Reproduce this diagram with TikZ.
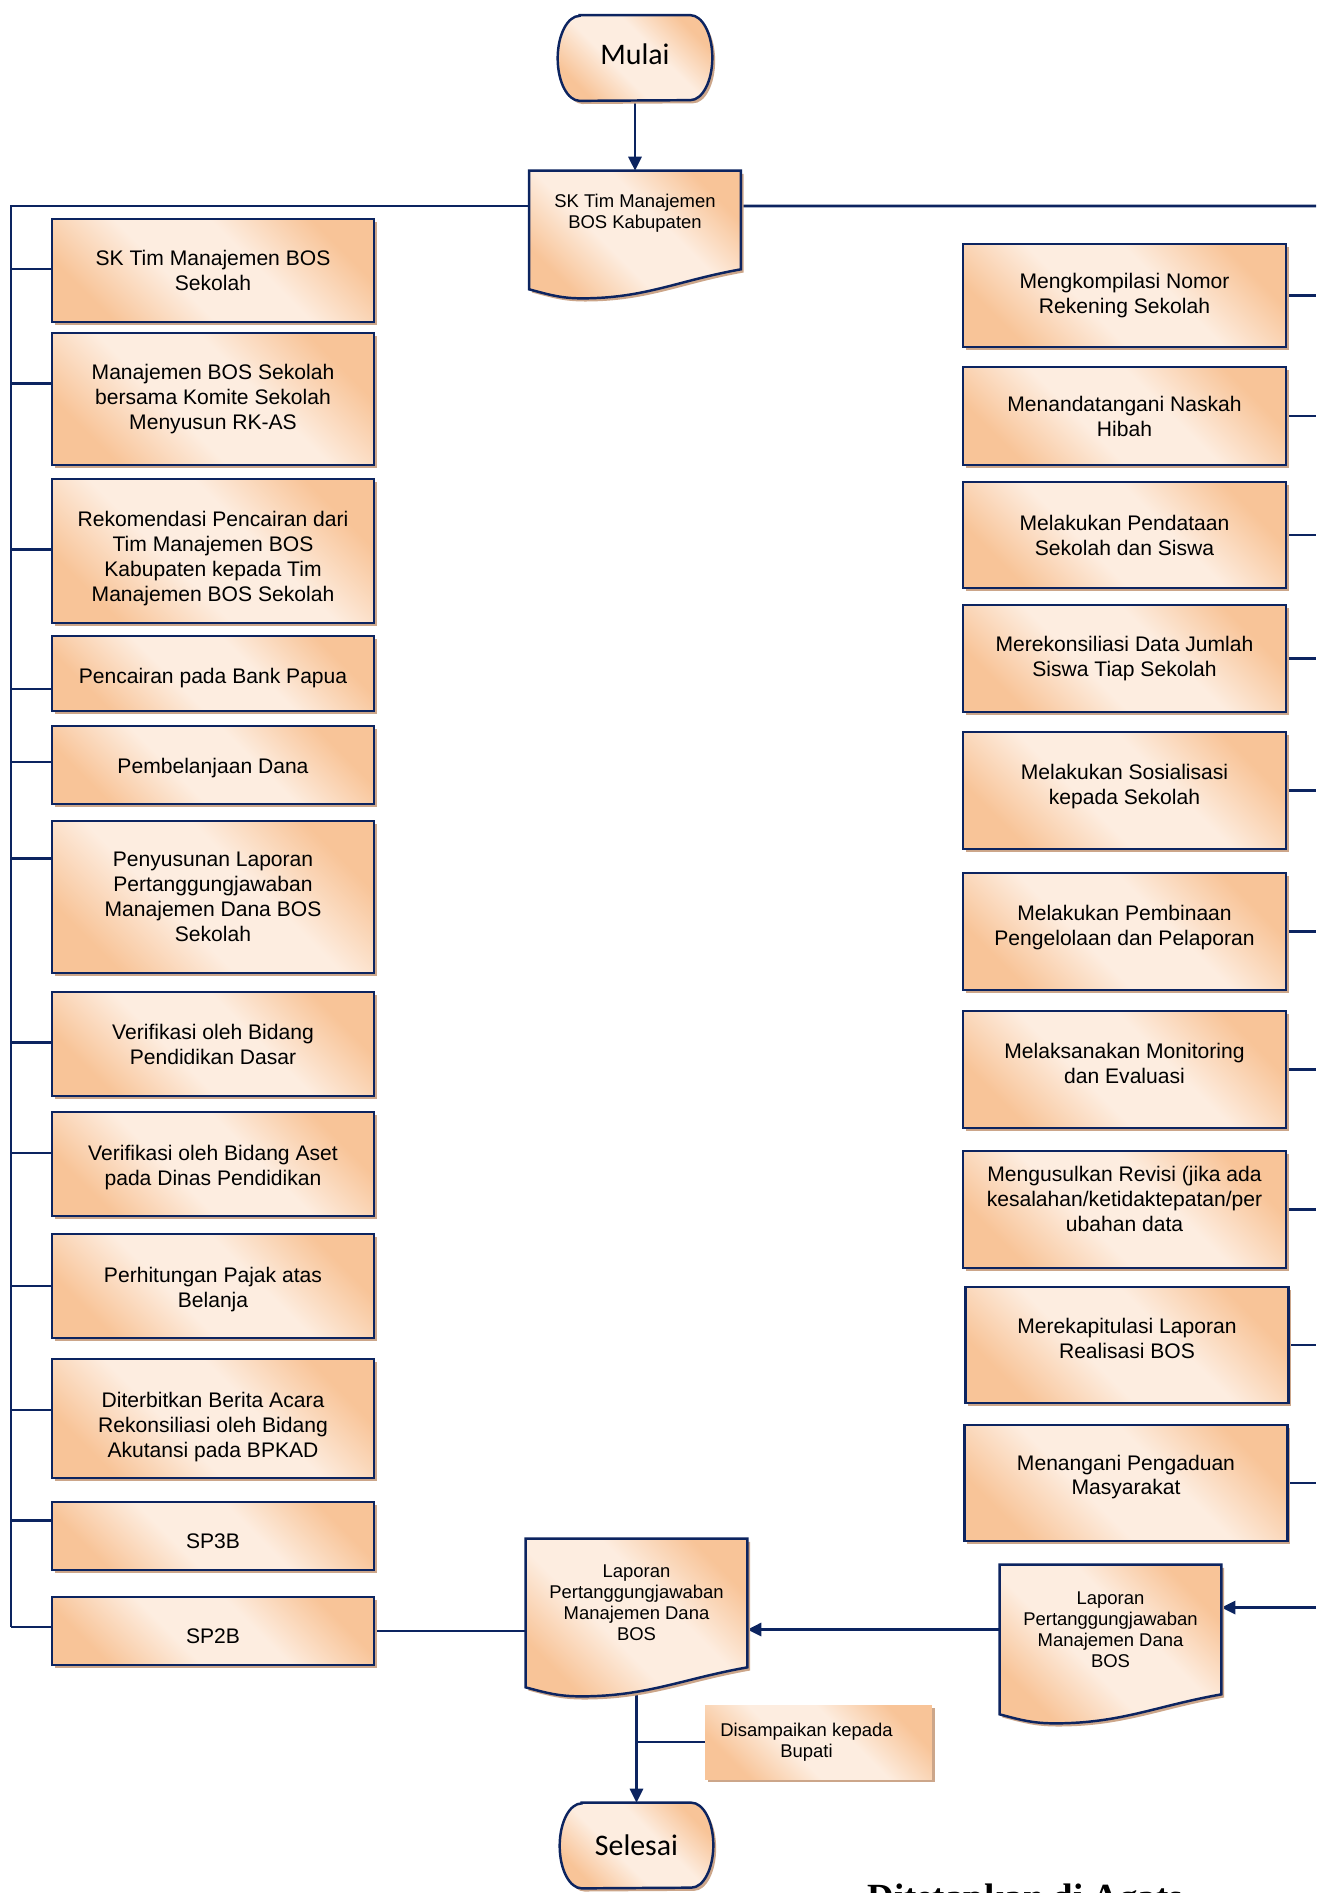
\documentclass[tikz,border=0pt]{standalone}
\usepackage{fontspec}
\setmainfont{Liberation Sans}
\newfontfamily\calib{Carlito}
\newfontfamily\timesf{Liberation Serif}
\usetikzlibrary{calc,shadows,arrows.meta}

\definecolor{navy}{RGB}{12,36,96}
\definecolor{peach}{RGB}{248,196,152}
\definecolor{peachlt}{RGB}{253,237,224}
\definecolor{tanc}{RGB}{204,166,138}
\pgfdeclareverticalshading{peachband}{100bp}{color(0bp)=(peach); color(25bp)=(peach);
  color(42bp)=(peachlt); color(58bp)=(peachlt); color(75bp)=(peach); color(100bp)=(peach)}

\pgfdeclarelayer{lines}
\pgfdeclarelayer{shapes}
\pgfsetlayers{lines,shapes,main}

\tikzset{
  fillpeach/.style={shade, shading=peachband, shading angle=135,
    drop shadow={shadow xshift=1.6pt, shadow yshift=-1.8pt, fill=tanc, opacity=1}},
  box/.style={rectangle, draw=navy, line width=1.4pt, fillpeach, inner sep=0pt, align=center,
    font=\fontsize{12}{14.2}\selectfont},
  lbox/.style={box, minimum width=6.44cm},
  rbox/.style={box, minimum width=6.46cm},
  doctext/.style={rectangle, inner sep=0pt, align=center, font=\fontsize{10.5}{12}\selectfont},
  termtext/.style={rectangle, inner sep=0pt, font=\calib\fontsize{17}{20}\selectfont},
  shapeline/.style={draw=navy, line width=1.4pt, fillpeach},
  flow/.style={draw=navy, line width=1.5pt},
  arr/.style={flow, -{Triangle[length=8pt,width=7.5pt]}}
}

% outline of a document symbol round a text node
\newcommand\docpath[1]{%
  \begin{pgfonlayer}{shapes}
  \path[shapeline] (#1.north west) -- (#1.north east) -- (#1.south east)
    to[out=190,in=0] ($(#1.south west)!0.25!(#1.south east)+(0,-29)$)
    to[out=180,in=-15] ($(#1.south west)+(0,-20)$) -- cycle;
  \end{pgfonlayer}}
% outline of a start/end symbol
\newcommand\termpath[1]{%
  \begin{pgfonlayer}{shapes}
  \path[shapeline] ($(#1.north west)+(22,0)$) -- ($(#1.north east)+(-22,0)$)
    arc[start angle=90, end angle=-90, x radius=0.44cm, y radius=0.85cm]
    -- ($(#1.south west)+(22,0)$)
    arc[start angle=270, end angle=90, x radius=0.44cm, y radius=0.85cm] -- cycle;
  \end{pgfonlayer}}

\begin{document}
\begin{tikzpicture}[x=0.02cm, y=0.02cm]
\useasboundingbox (0,0) rectangle (1316,-1893);

% start, end and documents
\node[termtext, text depth=4pt, minimum width=3.08cm, minimum height=1.7cm] (mulai) at (635,-58) {Mulai};
\termpath{mulai}
\node[doctext, text depth=10.3pt, minimum width=4.22cm, minimum height=1.96cm] (kab) at (635,-220) {SK Tim Manajemen\\BOS Kabupaten};
\docpath{kab}
\node[doctext, minimum width=4.42cm, minimum height=2.56cm] (cdoc) at (636.5,-1603) {Laporan\\Pertanggungjawaban\\Manajemen Dana\\BOS};
\docpath{cdoc}
\node[doctext, minimum width=4.42cm, minimum height=2.58cm] (rdoc) at (1110.5,-1629.5) {Laporan\\Pertanggungjawaban\\Manajemen Dana\\BOS};
\docpath{rdoc}
\node[termtext, minimum width=3.06cm, minimum height=1.7cm] (selesai) at (636.5,-1845.5) {Selesai};
\termpath{selesai}
\node[doctext, fillpeach, minimum width=4.54cm, minimum height=1.48cm] (bupati) at (818.5,-1742) {Disampaikan kepada\hspace*{0.48cm}\\Bupati\hspace*{0.48cm}};

% left column
\node[lbox, minimum height=2.06cm] (l1) at (213,-270.5) {SK Tim Manajemen BOS\\Sekolah};
\node[lbox, minimum height=2.64cm] (l2) at (213,-399) {Manajemen BOS Sekolah\\bersama Komite Sekolah\\Menyusun RK-AS};
\node[lbox, text height=59.4pt, minimum height=2.88cm] (l3) at (213,-551) {Rekomendasi Pencairan dari\\Tim Manajemen BOS\\Kabupaten kepada Tim\\Manajemen BOS Sekolah};
\node[lbox, text height=14pt, minimum height=1.5cm] (l4) at (213,-673.5) {Pencairan pada Bank Papua};
\node[lbox, text height=12.6pt, minimum height=1.56cm] (l5) at (213,-765) {Pembelanjaan Dana};
\node[lbox, minimum height=3.04cm] (l6) at (213,-897) {Penyusunan Laporan\\Pertanggungjawaban\\Manajemen Dana BOS\\Sekolah};
\node[lbox, minimum height=2.08cm] (l7) at (213,-1044) {Verifikasi oleh Bidang\\Pendidikan Dasar};
\node[lbox, text height=26.8pt, minimum height=2.08cm] (l8) at (213,-1164) {Verifikasi oleh Bidang Aset\\pada Dinas Pendidikan};
\node[lbox, text height=26.8pt, minimum height=2.08cm] (l9) at (213,-1286) {Perhitungan Pajak atas\\Belanja};
\node[lbox, text height=46.6pt, minimum height=2.38cm] (l10) at (213,-1418.5) {Diterbitkan Berita Acara\\Rekonsiliasi oleh Bidang\\Akutansi pada BPKAD};
\node[lbox, text height=14pt, minimum height=1.36cm] (l11) at (213,-1536) {SP3B};
\node[lbox, text height=14pt, minimum height=1.36cm] (l12) at (213,-1631) {SP2B};

% right column
\node[rbox, minimum height=2.06cm] (r1) at (1124.5,-295.5) {Mengkompilasi Nomor\\Rekening Sekolah};
\node[rbox, minimum height=1.96cm] (r2) at (1124.5,-416) {Menandatangani Naskah\\Hibah};
\node[rbox, minimum height=2.12cm] (r3) at (1124.5,-535) {Melakukan Pendataan\\Sekolah dan Siswa};
\node[rbox, minimum height=2.14cm] (r4) at (1124.5,-658.5) {Merekonsiliasi Data Jumlah\\Siswa Tiap Sekolah};
\node[rbox, text depth=6.5pt, minimum height=2.34cm] (r5) at (1124.5,-790.5) {Melakukan Sosialisasi\\kepada Sekolah};
\node[rbox, text depth=6.5pt, minimum height=2.34cm] (r6) at (1124.5,-931.5) {Melakukan Pembinaan\\Pengelolaan dan Pelaporan};
\node[rbox, text depth=6.8pt, minimum height=2.34cm] (r7) at (1124.5,-1069.5) {Melaksanakan Monitoring\\dan Evaluasi};
\node[rbox, text depth=12.4pt, minimum height=2.34cm] (r8) at (1124.5,-1209.5) {Mengusulkan Revisi (jika ada\\kesalahan/ketidaktepatan/per\\ubahan data};
\node[rbox, text depth=8pt, minimum height=2.32cm] (r9) at (1127,-1345) {Merekapitulasi Laporan\\Realisasi BOS};
\node[rbox, text depth=9.3pt, minimum height=2.32cm] (r10) at (1126,-1483) {Menangani Pengaduan\\Masyarakat};

\node[anchor=base west, inner sep=0pt, font=\timesf\bfseries\fontsize{21}{25}\selectfont] (tetap) at (867,-1909) {Ditetapkan di Agats};

% connectors
\coordinate (bus) at (11,-206);
\coordinate (redge) at (1316,-206);
\coordinate (kabl) at ([yshift=8pt]kab.west);
\coordinate (kabr) at ([yshift=8pt]kab.east);
\coordinate (rdin) at ([yshift=12.5pt]rdoc.east);
\foreach \n/\s in {l1/0.8, l2/9, l3/1, l4/-8.8, l5/1.7, l6/22, l7/1, l8/6.3, l9/0, l10/4.8, l11/9, l12/2.3}
  \coordinate (in\n) at ([yshift=\s pt]\n.west);

\begin{pgfonlayer}{lines}
\draw[arr] (mulai.south) -- (kab.north);
\draw[flow] (kabl) -| (inl12 -| bus);
\draw[flow] (kabr) -- (redge);
\foreach \n in {l1,l2,l3,l4,l5,l6,l7,l8,l9,l10,l11,l12}
  \draw[flow] (in\n) -- (in\n -| bus);
\foreach \n in {r1,r2,r3,r4,r5,r6,r7,r8,r9,r10}
  \draw[flow] (\n.east) -- (\n.east -| redge);
\draw[arr] (rdin -| redge) -- (rdin);
\draw[arr] (rdoc.west) -- (rdoc.west -| cdoc.east);
\draw[flow] (l12.east) -- (l12.east -| cdoc.west);
\draw[arr] (cdoc.south) -- (selesai.north);
\draw[flow] (bupati.west) -- (bupati.west -| cdoc.south);
\end{pgfonlayer}
\end{tikzpicture}
\end{document}
